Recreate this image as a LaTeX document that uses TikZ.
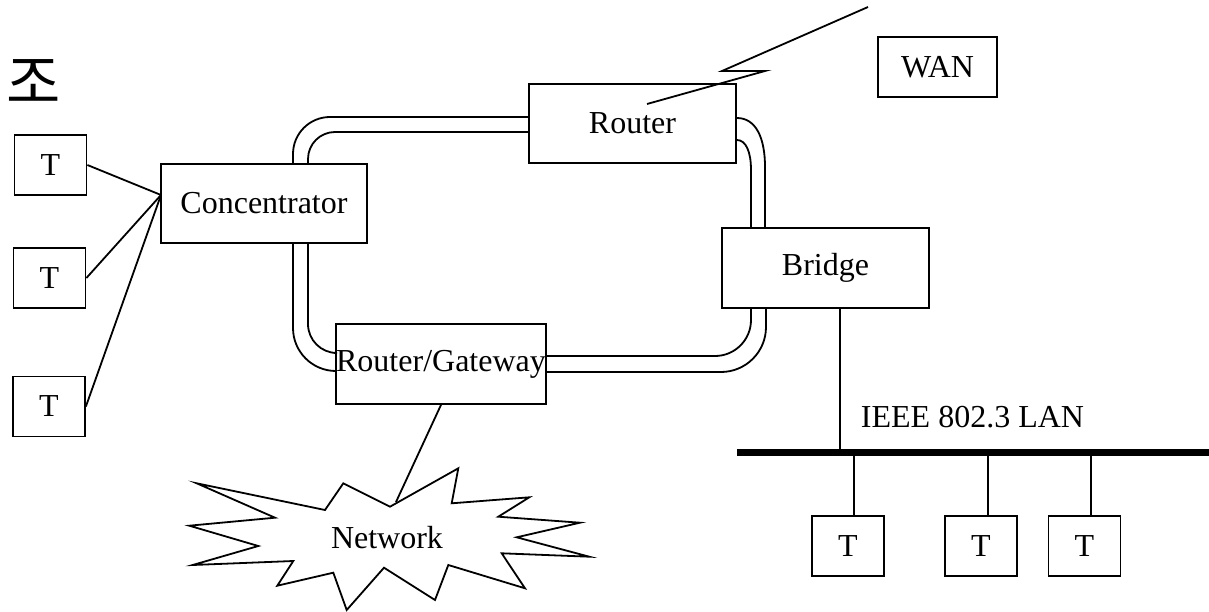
\documentclass[tikz,border=0pt]{standalone}
\usepackage{fontspec}
\newfontfamily\tnr{Liberation Serif}
\newfontfamily\cjk{Noto Sans CJK KR}
\begin{document}
\begin{tikzpicture}[x=1pt,y=-1pt,
  line width=1.8pt, line join=miter,
  box/.style={draw, line width=1.8pt, inner sep=0pt, font=\tnr\fontsize{32}{38}\selectfont},
  term/.style={box, minimum width=72pt, minimum height=60pt},
  label/.style={inner sep=0pt, font=\tnr\fontsize{32}{38}\selectfont},
  ring/.style={line width=1.8pt}]
\useasboundingbox (0,0) rectangle (1209,612);

% title glyph
\node[inner sep=0pt, font=\cjk\fontsize{59}{62}\selectfont] (title) at (34,82) {조};

% devices
\node[term] (t1) at (50.5,165) {T};
\node[term] (t2) at (49.5,278) {T};
\node[term] (t3) at (49,406.5) {T};
\node[box, minimum width=206pt, minimum height=79pt] (conc) at (264,203.5) {Concentrator};
\node[box, minimum width=207pt, minimum height=79pt] (router) at (632.5,123.5) {Router};
\node[box, minimum width=208pt, minimum height=80pt] (gw) at (441,364) {Router/Gateway};
\node[box, minimum width=207pt, minimum height=80pt] (bridge) at (825.5,268) {Bridge};
\node[box, minimum width=119pt, minimum height=60pt] (wan) at (937.5,67) {WAN};
\node[term] (t4) at (848,546) {T};
\node[term] (t5) at (981,546) {T};
\node[term] (t6) at (1084.5,546) {T};
\node[label] (lanlbl) at (972.5,417) {IEEE 802.3 LAN};

% terminals to concentrator
\coordinate (cj) at (161,195);
\draw (t1.east) -- (cj);
\draw (t2.east) -- (cj);
\draw (t3.east) -- (cj);

% ring tracks (outer / inner)
\coordinate (oL) at (293,117);
\coordinate (iL) at (308,132);
\coordinate (oR) at (765,118);
\coordinate (iR) at (751,140);
\coordinate (oB) at (766,372);
\coordinate (iB) at (751,356);
\coordinate (oBL) at (293,371);
\coordinate (iBL) at (308,353);

% concentrator -> router
\draw[ring, rounded corners=37pt] (oL |- conc.north) -- (oL) -- (oL -| router.west);
\draw[ring, rounded corners=27pt] (iL |- conc.north) -- (iL) -- (iL -| router.west);
% router -> bridge
\draw[ring] (oR -| router.east) .. controls (756,118) and (765,138) .. (765,167) -- (oR |- bridge.north);
\draw[ring] (iR -| router.east) .. controls (746,140) and (751,152) .. (751,170) -- (iR |- bridge.north);
% bridge -> router/gateway
\draw[ring, rounded corners=45pt] (oB |- bridge.south) -- (oB) -- (oB -| gw.east);
\draw[ring, rounded corners=36pt] (iB |- bridge.south) -- (iB) -- (iB -| gw.east);
% concentrator -> router/gateway
\draw[ring, rounded corners=43pt] (oBL |- conc.south) -- (oBL) -- (oBL -| gw.west);
\draw[ring, rounded corners=29pt] (iBL |- conc.south) -- (iBL) -- (iBL -| gw.west);

% WAN link (zigzag)
\coordinate (z1) at (868,7);
\coordinate (z2) at (722,71);
\coordinate (z3) at (765,71);
\coordinate (z4) at (647,104);
\draw (z1) -- (z2) -- (z3) -- (z4);

% network cloud
\draw (390,506.7) -- (458.3,468.3) -- (451.7,503.3) -- (529.3,497.3) -- (498.3,516.7)
  -- (580,522.7) -- (516.7,537.3) -- (589.3,556.7) -- (501.7,553.3) -- (525,588.3)
  -- (448.3,565) -- (435,600) -- (384,567.7) -- (346.7,610) -- (333.3,572.7)
  -- (277.3,585.7) -- (293.3,561) -- (192.7,565) -- (258.3,546) -- (189.3,525.7)
  -- (275,517.7) -- (196.7,483.3) -- (325,510) -- (343.3,483.3) -- cycle;
\node[label] (net) at (387,538) {Network};
\coordinate (nettop) at (396,502);
\draw (gw.south) -- (nettop);

% LAN bus
\coordinate (busL) at (737,452);
\coordinate (busR) at (1209,452);
\draw[line width=7pt] (busL) -- (busR);
\draw (bridge.south -| 840,0) -- (840,452);
\draw (t4.north -| 854,0) -- (854,452);
\draw (t5.north -| 988,0) -- (988,452);
\draw (t6.north -| 1091,0) -- (1091,452);
\end{tikzpicture}
\end{document}
